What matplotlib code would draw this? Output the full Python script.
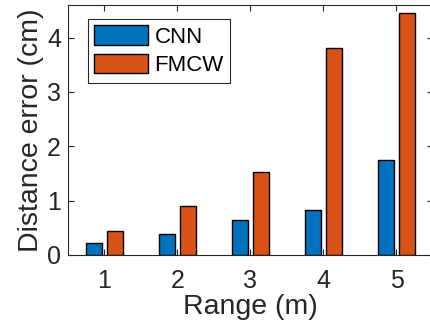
import numpy as np
import matplotlib.pyplot as plt

plt.rcParams['font.family'] = ['Liberation Sans', 'DejaVu Sans']

# data
ranges = [1, 2, 3, 4, 5]
cnn = [0.23, 0.38, 0.64, 0.82, 1.75]
fmcw = [0.45, 0.91, 1.52, 3.80, 4.46]

blue = '#0072BD'
orange = '#D95319'
axcol = '#262626'

fig = plt.figure(figsize=(4.31, 3.33), dpi=100)
ax = fig.add_axes([68/431, (333-255)/333, (433-68)/431, (255-5)/333])

x = np.array(ranges)
w = 0.23
ax.bar(x - 0.144, cnn, w, color=blue, edgecolor='black', linewidth=1, label='CNN')
ax.bar(x + 0.144, fmcw, w, color=orange, edgecolor='black', linewidth=1, label='FMCW')

ax.set_xlim(0.5, 5.5)
ax.set_ylim(0, 4.6)
ax.set_xticks(ranges)
ax.set_yticks([0, 1, 2, 3, 4])
ax.tick_params(direction='in', top=True, right=True, length=4, width=0.8,
               colors=axcol, labelsize=18)
ax.tick_params(axis='x', pad=10)
ax.tick_params(axis='y', pad=5)
for s in ax.spines.values():
    s.set_color(axcol)
    s.set_linewidth(0.8)

ax.set_xlabel('Range (m)', fontsize=20.5, color=axcol, labelpad=1)
ax.set_ylabel('Distance error (cm)', fontsize=20.5, color=axcol, labelpad=2)

leg = ax.legend(loc='upper left', bbox_to_anchor=(0.054, 0.945), fontsize=16,
                fancybox=False, edgecolor=axcol, framealpha=1,
                handlelength=2.4, handleheight=1.0, handletextpad=0.3,
                borderpad=0.3, labelspacing=0.25, borderaxespad=0)
leg.get_frame().set_linewidth(0.8)

fig.savefig('out.png', dpi=100)
